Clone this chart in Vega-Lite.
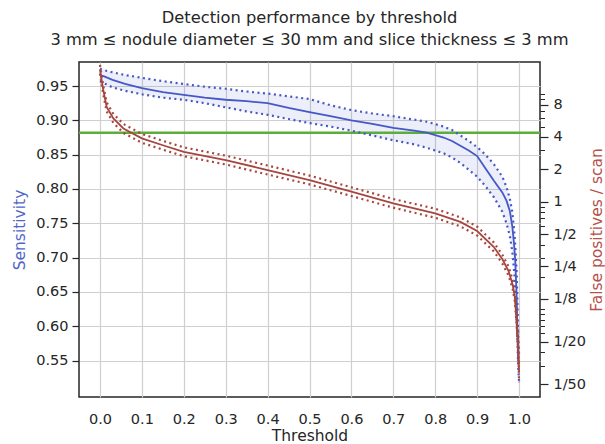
{
  "$schema": "https://vega.github.io/schema/vega-lite/v6.json",
  "width": 461,
  "height": 335,
  "autosize": {"type": "none"},
  "padding": {"left": 79, "top": 62, "right": 65, "bottom": 47},
  "background": "white",
  "config": {
    "font": "DejaVu Sans",
    "view": {"stroke": "#262626", "strokeWidth": 1.5},
    "axis": {
      "labelFont": "DejaVu Sans", "titleFont": "DejaVu Sans",
      "labelFontSize": 14.5, "titleFontSize": 15.5, "titleFontWeight": "normal",
      "labelColor": "#262626", "titleColor": "#262626", "tickColor": "#262626",
      "domain": false, "gridColor": "#cfcfcf", "gridWidth": 1.2
    }
  },
  "title": {
    "text": ["Detection performance by threshold", "3 mm ≤ nodule diameter ≤ 30 mm and slice thickness ≤ 3 mm"],
    "fontSize": 16.3, "fontWeight": "normal", "color": "#262626",
    "font": "DejaVu Sans", "offset": 12, "anchor": "middle", "lineHeight": 22
  },
  "datasets": {
    "sens": [
      {"t": 0, "s": 0.966, "lo": 0.957, "hi": 0.975},
      {"t": 0.01, "s": 0.964, "lo": 0.954, "hi": 0.973},
      {"t": 0.03, "s": 0.959, "lo": 0.948, "hi": 0.970},
      {"t": 0.06, "s": 0.953, "lo": 0.943, "hi": 0.966},
      {"t": 0.1, "s": 0.947, "lo": 0.938, "hi": 0.962},
      {"t": 0.15, "s": 0.941, "lo": 0.933, "hi": 0.957},
      {"t": 0.2, "s": 0.937, "lo": 0.930, "hi": 0.953},
      {"t": 0.25, "s": 0.933, "lo": 0.925, "hi": 0.949},
      {"t": 0.3, "s": 0.930, "lo": 0.919, "hi": 0.946},
      {"t": 0.35, "s": 0.928, "lo": 0.913, "hi": 0.942},
      {"t": 0.4, "s": 0.925, "lo": 0.908, "hi": 0.939},
      {"t": 0.45, "s": 0.918, "lo": 0.902, "hi": 0.935},
      {"t": 0.5, "s": 0.912, "lo": 0.896, "hi": 0.931},
      {"t": 0.55, "s": 0.906, "lo": 0.891, "hi": 0.922},
      {"t": 0.6, "s": 0.900, "lo": 0.885, "hi": 0.915},
      {"t": 0.65, "s": 0.895, "lo": 0.878, "hi": 0.910},
      {"t": 0.7, "s": 0.889, "lo": 0.871, "hi": 0.906},
      {"t": 0.75, "s": 0.885, "lo": 0.865, "hi": 0.901},
      {"t": 0.78, "s": 0.882, "lo": 0.860, "hi": 0.898},
      {"t": 0.82, "s": 0.875, "lo": 0.852, "hi": 0.891},
      {"t": 0.84, "s": 0.870, "lo": 0.846, "hi": 0.886},
      {"t": 0.86, "s": 0.863, "lo": 0.838, "hi": 0.878},
      {"t": 0.88, "s": 0.856, "lo": 0.828, "hi": 0.870},
      {"t": 0.9, "s": 0.848, "lo": 0.818, "hi": 0.861},
      {"t": 0.92, "s": 0.830, "lo": 0.804, "hi": 0.850},
      {"t": 0.94, "s": 0.812, "lo": 0.788, "hi": 0.836},
      {"t": 0.96, "s": 0.795, "lo": 0.767, "hi": 0.818},
      {"t": 0.97, "s": 0.783, "lo": 0.750, "hi": 0.803},
      {"t": 0.978, "s": 0.768, "lo": 0.732, "hi": 0.786},
      {"t": 0.984, "s": 0.745, "lo": 0.708, "hi": 0.766},
      {"t": 0.988, "s": 0.720, "lo": 0.682, "hi": 0.742},
      {"t": 0.991, "s": 0.695, "lo": 0.660, "hi": 0.718},
      {"t": 0.994, "s": 0.649, "lo": 0.620, "hi": 0.682},
      {"t": 0.996, "s": 0.599, "lo": 0.580, "hi": 0.640},
      {"t": 0.998, "s": 0.551, "lo": 0.540, "hi": 0.585},
      {"t": 1.0, "s": 0.545, "lo": 0.520, "hi": 0.560}
    ],
    "fp": [
      {"t": 0, "fp": 17.0, "lo": 15.5, "hi": 18.7},
      {"t": 0.004, "fp": 13.5, "lo": 12.3, "hi": 14.9},
      {"t": 0.008, "fp": 10.9, "lo": 9.9, "hi": 12.0},
      {"t": 0.016, "fp": 7.6, "lo": 6.9, "hi": 8.4},
      {"t": 0.032, "fp": 5.95, "lo": 5.4, "hi": 6.55},
      {"t": 0.056, "fp": 4.8, "lo": 4.36, "hi": 5.28},
      {"t": 0.1, "fp": 3.88, "lo": 3.53, "hi": 4.27},
      {"t": 0.15, "fp": 3.35, "lo": 3.05, "hi": 3.68},
      {"t": 0.2, "fp": 2.91, "lo": 2.65, "hi": 3.2},
      {"t": 0.3, "fp": 2.44, "lo": 2.22, "hi": 2.68},
      {"t": 0.4, "fp": 1.97, "lo": 1.79, "hi": 2.17},
      {"t": 0.5, "fp": 1.59, "lo": 1.45, "hi": 1.75},
      {"t": 0.6, "fp": 1.24, "lo": 1.13, "hi": 1.36},
      {"t": 0.7, "fp": 0.966, "lo": 0.88, "hi": 1.06},
      {"t": 0.8, "fp": 0.78, "lo": 0.71, "hi": 0.86},
      {"t": 0.86, "fp": 0.65, "lo": 0.59, "hi": 0.715},
      {"t": 0.9, "fp": 0.534, "lo": 0.485, "hi": 0.587},
      {"t": 0.94, "fp": 0.379, "lo": 0.345, "hi": 0.417},
      {"t": 0.96, "fp": 0.293, "lo": 0.266, "hi": 0.322},
      {"t": 0.975, "fp": 0.227, "lo": 0.206, "hi": 0.25},
      {"t": 0.985, "fp": 0.168, "lo": 0.153, "hi": 0.185},
      {"t": 0.99, "fp": 0.13, "lo": 0.118, "hi": 0.143},
      {"t": 0.994, "fp": 0.08, "lo": 0.073, "hi": 0.088},
      {"t": 0.997, "fp": 0.052, "lo": 0.047, "hi": 0.057},
      {"t": 0.999, "fp": 0.034, "lo": 0.031, "hi": 0.037},
      {"t": 1.0, "fp": 0.026, "lo": 0.021, "hi": 0.03}
    ],
    "target": [{"s": 0.882}]
  },
  "layer": [
    {
      "data": {"name": "sens"},
      "layer": [
        {
          "mark": {"type": "area", "color": "#4658c8", "opacity": 0.1},
          "encoding": {
            "x": {"field": "t", "type": "quantitative",
              "scale": {"domain": [-0.05, 1.05], "nice": false, "zero": false},
              "axis": {"values": [0, 0.1, 0.2, 0.3, 0.4, 0.5, 0.6, 0.7, 0.8, 0.9, 1.0], "format": ".1f", "ticks": false, "labelPadding": 15, "title": "Threshold", "titlePadding": 3, "grid": true}},
            "y": {"field": "lo", "type": "quantitative",
              "scale": {"domain": [0.497, 0.985], "nice": false, "zero": false},
              "axis": {"orient": "left", "values": [0.55, 0.6, 0.65, 0.7, 0.75, 0.8, 0.85, 0.9, 0.95], "format": ".2f", "tickSize": 7, "tickWidth": 1.2, "labelPadding": 4, "title": "Sensitivity", "titleColor": "#5266c8", "titlePadding": 8, "grid": true}},
            "y2": {"field": "hi"}
          }
        },
        {
          "data": {"name": "target"},
          "mark": {"type": "rule", "color": "#5cad3c", "strokeWidth": 2.5},
          "encoding": {"y": {"field": "s", "type": "quantitative", "title": "Sensitivity"}}
        },
        {
          "mark": {"type": "line", "color": "#4658c8", "strokeWidth": 2.2, "strokeDash": [2, 3.5]},
          "encoding": {"x": {"field": "t", "type": "quantitative"}, "y": {"field": "lo", "type": "quantitative", "title": "Sensitivity"}}
        },
        {
          "mark": {"type": "line", "color": "#4658c8", "strokeWidth": 2.2, "strokeDash": [2, 3.5]},
          "encoding": {"x": {"field": "t", "type": "quantitative"}, "y": {"field": "hi", "type": "quantitative", "title": "Sensitivity"}}
        },
        {
          "mark": {"type": "line", "color": "#4658c8", "strokeWidth": 1.8},
          "encoding": {"x": {"field": "t", "type": "quantitative"}, "y": {"field": "s", "type": "quantitative", "title": "Sensitivity"}}
        }
      ]
    },
    {
      "data": {"name": "fp"},
      "layer": [
        {
          "mark": {"type": "line", "color": "#a6463f", "strokeWidth": 1.8},
          "encoding": {
            "x": {"field": "t", "type": "quantitative"},
            "y": {"field": "fp", "type": "quantitative",
              "scale": {"type": "log", "domain": [0.0153, 19.9], "nice": false},
              "axis": {"orient": "right", "values": [8, 4, 2, 1, 0.5, 0.25, 0.125, 0.05, 0.02], "labelExpr": "datum.value >= 1 ? format(datum.value, 'd') : '1/' + format(round(1 / datum.value), 'd')", "tickSize": 8, "tickWidth": 1.2, "labelPadding": 5, "title": "False positives / scan", "titleColor": "#b5504b", "titleAngle": -90, "titleBaseline": "top", "titlePadding": 4, "grid": false}}
          }
        },
        {
          "mark": {"type": "line", "color": "#a6463f", "strokeWidth": 2.2, "strokeDash": [2, 3.5]},
          "encoding": {"x": {"field": "t", "type": "quantitative"}, "y": {"field": "lo", "type": "quantitative", "title": "False positives / scan"}}
        },
        {
          "mark": {"type": "line", "color": "#a6463f", "strokeWidth": 2.2, "strokeDash": [2, 3.5]},
          "encoding": {"x": {"field": "t", "type": "quantitative"}, "y": {"field": "hi", "type": "quantitative", "title": "False positives / scan"}}
        }
      ]
    },
    {
      "data": {"name": "fp"},
      "mark": {"type": "line", "opacity": 0},
      "encoding": {
        "x": {"field": "t", "type": "quantitative"},
        "y": {"field": "fp", "type": "quantitative",
          "scale": {"type": "log", "domain": [0.0153, 19.9], "nice": false},
          "axis": {"orient": "right", "values": [0.03, 0.04, 0.06, 0.07, 0.08, 0.09, 0.1, 0.2, 0.3, 0.4, 0.6, 0.7, 0.8, 0.9, 3, 5, 6, 7, 9, 10], "labels": false, "tickSize": 4.5, "tickWidth": 1, "title": null, "grid": false}}
      }
    }
  ],
  "resolve": {"scale": {"y": "independent"}}
}
